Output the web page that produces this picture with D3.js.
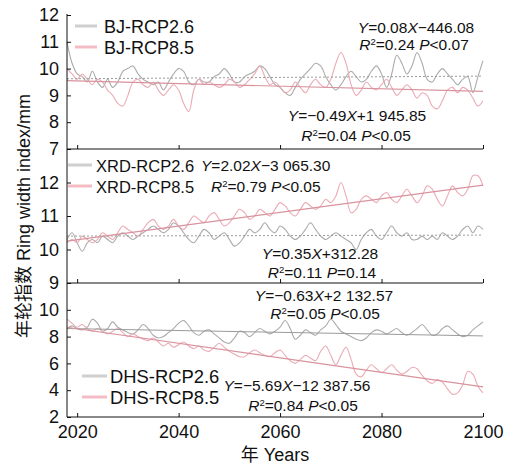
<!DOCTYPE html>
<html>
<head>
<meta charset="utf-8">
<script src="https://cdn.jsdelivr.net/npm/d3@7"></script>
<style>
  body { margin: 0; background: #fff }
  svg { font-family: 'Liberation Sans', Arial, sans-serif }
</style>
</head>
<body>
<svg id="chart" width="515" height="467"></svg>
<script>
const years = d3.range(2018, 2101)
const xTicks = [2020, 2040, 2060, 2080, 2100]

// ring width index, one value per year 2018..2100
const bjRcp26 = [11.0, 10.2, 9.8, 9.7, 9.5, 9.9, 9.5, 9.3, 9.6, 9.3, 9.5, 9.9, 10.0, 10.1, 9.8, 9.6, 9.5, 9.4, 9.5, 9.2,
  9.5, 9.8, 10.0, 9.9, 9.5, 9.4, 9.6, 9.5, 9.5, 9.7, 9.8, 10.0, 9.8, 9.5, 9.5, 9.7, 9.8, 9.9, 10.1, 10.0,
  9.7, 9.4, 9.3, 9.1, 9.0, 9.3, 9.6, 9.8, 10.0, 10.2, 10.1, 9.7, 9.4, 9.2, 9.4, 9.7, 9.9, 9.7, 9.5, 9.6,
  9.9, 10.1, 9.8, 9.3, 9.8, 10.5, 10.2, 9.8, 10.1, 10.6, 10.2, 9.6, 9.5, 9.8, 10.0, 9.8, 9.6, 9.4, 9.6, 9.7,
  9.1, 9.7, 10.3]
const bjRcp85 = [10.0, 9.8, 9.6, 9.8, 9.6, 9.4, 9.6, 9.5, 9.2, 9.0, 8.7, 8.6, 9.0, 9.5, 9.6, 9.4, 9.3, 9.5, 9.2, 9.0,
  9.2, 9.4, 9.2, 8.7, 8.4, 9.2, 9.6, 9.4, 9.5, 9.4, 9.3, 9.4, 9.6, 9.5, 9.3, 9.4, 9.6, 9.8, 10.1, 9.7,
  9.4, 9.5, 9.3, 9.1, 9.2, 9.5, 9.3, 9.1, 9.4, 9.6, 9.4, 9.3, 9.6, 10.2, 10.6, 10.2, 9.4, 9.0, 9.2, 9.5,
  9.3, 9.2, 9.4, 9.6, 9.3, 9.0, 9.2, 9.4, 9.2, 8.9, 9.1, 9.0, 8.6, 8.5, 8.8, 9.2, 9.3, 9.1, 9.3, 9.2,
  8.9, 8.6, 8.8]
const xrdRcp26 = [10.3, 10.5, 10.2, 9.95, 10.2, 10.3, 10.2, 10.4, 10.3, 10.2, 10.4, 10.5, 10.4, 10.3, 10.4, 10.5, 10.6, 10.7, 10.6, 10.5,
  10.6, 10.8, 10.7, 10.5, 10.3, 10.2, 10.4, 10.6, 10.5, 10.3, 10.4, 10.5, 10.3, 10.1, 10.2, 10.4, 10.6, 10.5, 10.6, 10.8,
  10.6, 10.5, 10.7, 10.6, 10.4, 10.3, 10.4, 10.6, 10.8, 10.6, 10.4, 10.3, 10.4, 10.5, 10.4, 10.3, 10.2, 10.0, 10.3, 10.5,
  10.6, 10.4, 10.3, 10.5, 10.7, 10.5, 10.4, 10.5, 10.3, 10.3, 10.4, 10.3, 10.4, 10.3, 10.5, 10.4, 10.3, 10.4, 10.6, 10.7,
  10.5, 10.7, 10.6]
const xrdRcp85 = [10.2, 10.3, 10.2, 10.4, 10.3, 10.2, 10.3, 10.5, 10.4, 10.3, 10.5, 10.7, 10.6, 10.5, 10.4, 10.6, 10.8, 10.9, 10.7, 10.6,
  10.7, 10.9, 10.7, 10.6, 10.8, 11.0, 10.9, 10.8, 11.0, 11.1, 10.9, 10.7, 10.8, 11.0, 11.2, 11.1, 10.9, 11.0, 11.2, 11.1,
  11.0, 11.2, 11.4, 11.3, 11.1, 11.0, 11.2, 11.4, 11.3, 11.2, 11.3, 11.5, 11.4, 11.6, 12.0, 11.6, 11.1, 11.2, 11.5, 11.6,
  11.5, 11.4, 11.6, 11.7, 11.5, 11.4, 11.6, 11.8, 11.6, 11.4, 11.6, 11.9, 11.8, 11.5, 11.3, 11.6, 11.9, 11.7, 11.6, 11.8,
  12.2, 12.2, 11.9]
const dhsRcp26 = [8.6, 8.8, 8.6, 8.5, 8.7, 9.3, 9.0, 8.4, 8.6, 9.1, 8.7, 8.5, 8.3, 8.2, 8.5, 8.9, 8.6, 8.1, 7.9, 8.0,
  8.3, 8.6, 9.0, 9.2, 8.8, 8.3, 8.1, 8.4, 8.5, 8.2, 7.9, 7.6, 7.5, 7.9, 8.4, 8.3, 8.0, 8.3, 8.6, 8.4,
  8.2, 8.4, 8.7, 9.2, 8.6, 7.8, 8.1, 8.5, 8.3, 8.1, 8.5, 8.8, 9.3, 8.9, 8.4, 8.2, 8.0, 7.8, 7.7, 7.9,
  8.3, 8.5, 8.4, 8.2, 8.4, 8.6, 8.3, 8.1, 8.3, 8.6, 8.9, 8.5, 8.1, 8.2, 8.6, 8.8, 8.5, 8.2, 8.0, 8.1,
  8.5, 8.8, 9.1]
const dhsRcp85 = [9.3, 9.0, 8.7, 8.9, 8.6, 8.4, 8.6, 8.4, 8.2, 8.4, 8.6, 8.3, 8.0, 8.2, 8.0, 7.8, 7.7, 7.9, 7.6, 7.3,
  7.5, 7.2, 7.4, 7.6, 7.3, 7.1, 7.3, 7.0, 6.9, 7.2, 7.5, 7.2, 6.9, 6.7, 6.5, 6.5, 6.8, 7.0, 6.8, 6.6,
  6.5, 6.8, 7.0, 6.6, 6.2, 6.0, 6.3, 6.6, 6.4, 6.2, 6.9, 7.3, 6.6, 5.9, 6.6, 7.2, 6.3, 5.2, 5.0, 5.5,
  5.9, 5.6, 5.3, 5.6, 5.9, 5.5, 5.2, 5.4, 5.7, 5.6, 5.1, 4.7, 4.5, 4.8, 4.6, 4.1, 3.7, 3.8, 4.4, 5.4,
  5.2, 4.3, 3.8]

const sites = ['BJ', 'XRD', 'DHS']
const rcp26Series = [bjRcp26, xrdRcp26, dhsRcp26]
const rcp85Series = [bjRcp85, xrdRcp85, dhsRcp85]
const yDomains = [[7, 12], [9, 13], [2, 12]]
const yTickValues = [[7, 8, 9, 10, 11, 12], [9, 10, 11, 12], [2, 4, 6, 8, 10]]
// fitted trend, value at 2018 and at 2100
const trend26 = [[9.62, 9.72], [10.40, 10.43], [8.60, 8.05]]
const trend85 = [[9.55, 9.15], [10.25, 11.92], [8.70, 4.25]]
const equations = [
  ['*Y*=0.08*X*\u2212446.08', '*R*^2^=0.24 *P*<0.07', '*Y*=\u22120.49*X*+1 945.85', '*R*^2^=0.04 *P*<0.05'],
  ['*Y*=2.02*X*\u22123 065.30', '*R*^2^=0.79 *P*<0.05', '*Y*=0.35*X*+312.28', '*R*^2^=0.11 *P*=0.14'],
  ['*Y*=\u22120.63*X*+2 132.57', '*R*^2^=0.05 *P*<0.05', '*Y*=\u22125.69*X*\u221212 387.56', '*R*^2^=0.84 *P*<0.05']
]

const GRAY = '#ababab'
const PINK = '#ecabb4'
const GRAY_LEGEND = '#cfcfcf'
const PINK_LEGEND = '#f3bcc4'

const svg = d3.select('#chart')
const left = 67, right = 483
const panelTop = [15, 149, 283]
const panelHeight = 134

const x = d3.scaleLinear().domain([2018, 2100]).range([left, right])

// equation placement: [x, baseline, anchor]
const eqPlacement = [
  [[416, 33, 'middle'], [414, 50, 'middle'], [357, 121, 'middle'], [356, 141, 'middle']],
  [[201, 171, 'start'], [211, 192, 'start'], [320, 259, 'middle'], [322, 278, 'middle']],
  [[324, 301, 'middle'], [325, 319, 'middle'], [297, 391, 'middle'], [303, 411, 'middle']]
]
const legendPlacement = [
  { x0: 75, x1: 97, tx: 104, y: 26, size: 18 },
  { x0: 68, x1: 92, tx: 96, y: 165, size: 16.5 },
  { x0: 82, x1: 107, tx: 110, y: 376, size: 18.4 }
]

function richText(sel, str) {
  // *..* italic, ^..^ superscript
  const parts = str.split(/(\*[^*]+\*|\^[^^]+\^)/).filter(p => p.length)
  let shift = 0
  parts.forEach(p => {
    let span
    if (p[0] === '*') {
      span = sel.append('tspan').attr('font-style', 'italic').text(p.slice(1, -1))
    } else if (p[0] === '^') {
      span = sel.append('tspan').attr('font-size', 9.5).text(p.slice(1, -1))
      span.attr('dy', -5 - shift)
      shift = -5
      return
    } else {
      span = sel.append('tspan').text(p)
    }
    if (shift) {
      span.attr('dy', -shift)
      shift = 0
    }
  })
}

sites.forEach((site, i) => {
  const top = panelTop[i]
  const y = d3.scaleLinear().domain(yDomains[i]).range([top + panelHeight, top])
  const g = svg.append('g').attr('class', 'panel-' + site)

  const line = d3.line()
    .x((d, k) => x(years[k]))
    .y(d => y(d))
    .curve(d3.curveCatmullRom.alpha(0.5))

  g.append('path').datum(rcp26Series[i])
    .attr('d', line)
    .attr('fill', 'none')
    .attr('stroke', GRAY)
    .attr('stroke-width', 1.1)

  g.append('path').datum(rcp85Series[i])
    .attr('d', line)
    .attr('fill', 'none')
    .attr('stroke', PINK)
    .attr('stroke-width', 1.1)

  const trendLine = d3.line().x(d => x(d[0])).y(d => y(d[1]))
  g.append('path')
    .datum([[2018, trend26[i][0]], [2100, trend26[i][1]]])
    .attr('d', trendLine)
    .attr('stroke', '#9a9a9a')
    .attr('stroke-width', 1)
    .attr('stroke-dasharray', i < 2 ? '2,2' : null)
  g.append('path')
    .datum([[2018, trend85[i][0]], [2100, trend85[i][1]]])
    .attr('d', trendLine)
    .attr('stroke', '#d8939d')
    .attr('stroke-width', 1.2)

  // axes, ticks pointing inward
  const yAxis = d3.axisLeft(y).tickValues(yTickValues[i]).tickSize(-4).tickPadding(8).tickFormat(d3.format('d'))
  const ga = g.append('g').attr('transform', `translate(${left},0)`).call(yAxis)
  ga.select('.domain').remove()
  ga.selectAll('text').attr('font-size', 18).attr('fill', '#111').attr('font-family', null)
  ga.selectAll('line').attr('stroke', '#111')

  const xAxis = d3.axisBottom(x).tickValues(xTicks).tickSize(-4).tickPadding(8).tickFormat(d3.format('d'))
  const gx = g.append('g').attr('transform', `translate(0,${top + panelHeight})`).call(xAxis)
  gx.select('.domain').attr('d', `M${left},0H${right}`).attr('stroke', '#111')
  gx.selectAll('line').attr('stroke', '#111')
  if (i < 2) {
    gx.selectAll('text').remove()
  } else {
    gx.selectAll('text').attr('font-size', 18).attr('fill', '#111').attr('font-family', null)
  }

  // legend
  const lp = legendPlacement[i]
  ;[[GRAY_LEGEND, '-RCP2.6'], [PINK_LEGEND, '-RCP8.5']].forEach((item, k) => {
    const ly = lp.y + k * 21
    g.append('line').attr('x1', lp.x0).attr('x2', lp.x1).attr('y1', ly).attr('y2', ly)
      .attr('stroke', item[0]).attr('stroke-width', 3)
    g.append('text').attr('x', lp.tx).attr('y', ly + 6.5)
      .attr('font-size', lp.size).attr('fill', '#111')
      .text(site + item[1])
  })

  // regression equations
  equations[i].forEach((eq, k) => {
    const p = eqPlacement[i][k]
    const t = g.append('text').attr('x', p[0]).attr('y', p[1])
      .attr('text-anchor', p[2]).attr('font-size', 15.5).attr('fill', '#111')
    richText(t, eq)
  })
})

// shared y axis line
svg.append('line').attr('x1', left).attr('x2', left).attr('y1', panelTop[0] - 1).attr('y2', panelTop[2] + panelHeight)
  .attr('stroke', '#111')

svg.append('text')
  .attr('transform', `translate(30,${216}) rotate(-90)`)
  .attr('text-anchor', 'middle')
  .attr('font-size', 18).attr('fill', '#111')
  .html('<tspan font-family="Noto Sans CJK SC">年轮指数</tspan> Ring width index/mm')

svg.append('text')
  .attr('x', (left + right) / 2).attr('y', 461)
  .attr('text-anchor', 'middle')
  .attr('font-size', 18).attr('fill', '#111')
  .html('<tspan font-family="Noto Sans CJK SC">年</tspan> Years')
</script>
</body>
</html>
